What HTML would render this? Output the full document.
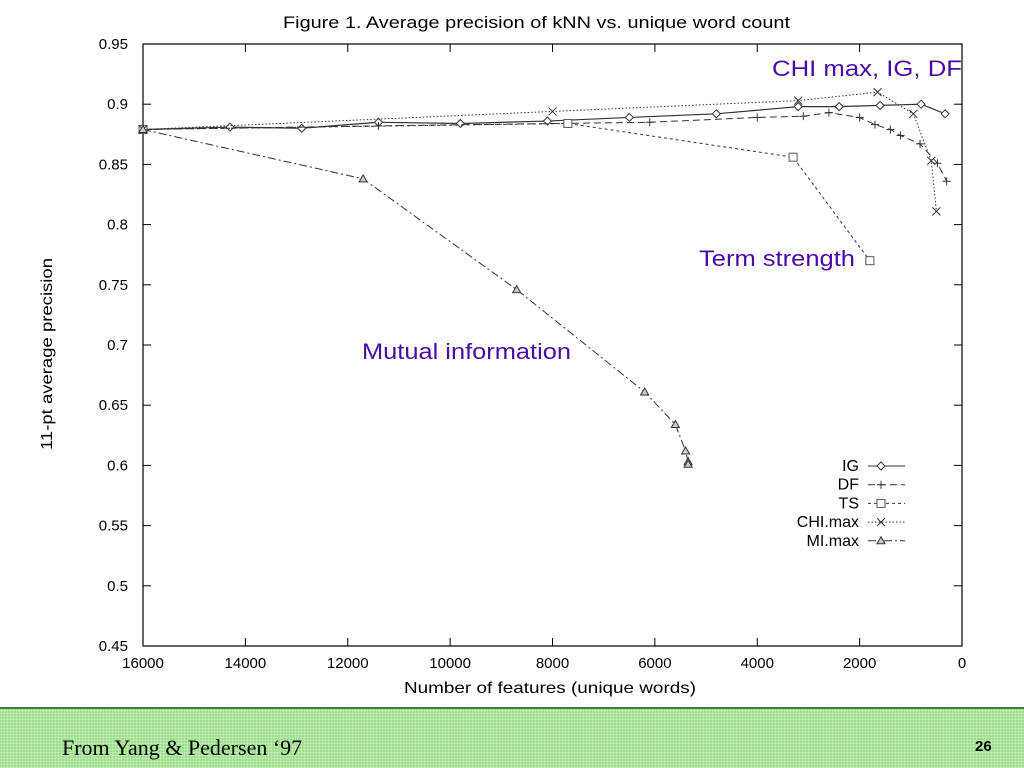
<!DOCTYPE html>
<html><head><meta charset="utf-8"><style>
body{margin:0;width:1024px;height:768px;background:#fff;overflow:hidden;font-family:"Liberation Sans",sans-serif;}
#band{position:absolute;left:0;top:707px;width:1024px;height:61px;background:#9ddf8c;border-top:2px solid #3a7a3a;box-sizing:border-box;background-image:radial-gradient(#c8f0bc 0.8px,transparent 0.9px);background-size:3px 3px;}
</style></head><body>
<svg id="chart" width="1024" height="707" style="position:absolute;left:0;top:0" font-family="Liberation Sans, sans-serif"></svg>
<div id="band">
<div style="position:absolute;left:62px;top:26px;font-family:'Liberation Serif',serif;font-size:22px;">From Yang &amp; Pedersen ‘97</div>
<div style="position:absolute;left:975px;top:29px;font-weight:bold;font-size:15px;">26</div>
</div>
<script>
const xTicks=[16000,14000,12000,10000,8000,6000,4000,2000,0];
const yTicks=[0.45,0.5,0.55,0.6,0.65,0.7,0.75,0.8,0.85,0.9,0.95];
const igX=[16000,14300,12900,11400,9800,8100,6500,4800,3200,2400,1600,800,330];
const igY=[0.879,0.881,0.880,0.885,0.884,0.886,0.889,0.892,0.898,0.898,0.899,0.900,0.892];
const dfX=[16000,11400,6100,4000,3100,2600,2000,1700,1400,1200,820,480,300];
const dfY=[0.879,0.882,0.885,0.889,0.890,0.893,0.889,0.883,0.879,0.874,0.867,0.851,0.836];
const tsX=[16000,7700,3300,1800];
const tsY=[0.879,0.884,0.856,0.770];
const chiX=[16000,8000,3200,1650,950,600,500];
const chiY=[0.879,0.894,0.903,0.910,0.892,0.853,0.811];
const miX=[16000,11700,8700,6200,5600,5400,5350,5350];
const miY=[0.879,0.838,0.746,0.661,0.634,0.612,0.603,0.601];
const L=143,R=962,T=44,B=646;
const sx=v=>L+(16000-v)*(R-L)/16000;
const sy=v=>T+(0.95-v)*(B-T)/0.5;
const svg=document.getElementById('chart');
const NS='http://www.w3.org/2000/svg';
function mk(tag,at,name,parent){const e=document.createElementNS(NS,tag);for(const k in at)e.setAttribute(k,at[k]);


(parent||svg).appendChild(e);return e;}
function txt(s,at,name){const e=mk('text',at,name);e.textContent=s;return e;}
txt('Figure 1. Average precision of kNN vs. unique word count',{x:283,y:28,'font-size':17,textLength:507,lengthAdjust:'spacingAndGlyphs'},'chart-title');
mk('rect',{x:L,y:T,width:R-L,height:B-T,fill:'none',stroke:'#000','stroke-width':1.2},'plot-frame');
xTicks.forEach(v=>{const x=sx(v);
mk('line',{x1:x,x2:x,y1:B,y2:B-8,stroke:'#000'},'x-tick');
mk('line',{x1:x,x2:x,y1:T,y2:T+8,stroke:'#000'},'x-tick-top');
txt(String(v),{x:x,y:B+22,'text-anchor':'middle','font-size':15},'x-tick-label');});
yTicks.forEach(v=>{const y=sy(v);
mk('line',{x1:L,x2:L+8,y1:y,y2:y,stroke:'#000'},'y-tick');
mk('line',{x1:R,x2:R-8,y1:y,y2:y,stroke:'#000'},'y-tick-right');
txt(String(v),{x:128,y:y+5,'text-anchor':'end','font-size':15},'y-tick-label');});
txt('Number of features (unique words)',{x:404,y:693,'font-size':16,textLength:292,lengthAdjust:'spacingAndGlyphs'},'x-axis-title');
txt('11-pt average precision',{x:0,y:0,'font-size':16,textLength:192,lengthAdjust:'spacingAndGlyphs',transform:'translate(52 450) rotate(-90)'},'y-axis-title');
function marker(type,x,y,g){
 if(type==='d')mk('polygon',{points:`${x},${y-4} ${x+4},${y} ${x},${y+4} ${x-4},${y}`,fill:'#fff',stroke:'#333'},'marker',g);
 else if(type==='p'){mk('path',{d:`M${x-4} ${y}H${x+4}M${x} ${y-4}V${y+4}`,stroke:'#333'},'marker',g);}
 else if(type==='s')mk('rect',{x:x-4,y:y-4,width:8,height:8,fill:'#fff',stroke:'#555'},'marker',g);
 else if(type==='x')mk('path',{d:`M${x-4} ${y-4}L${x+4} ${y+4}M${x-4} ${y+4}L${x+4} ${y-4}`,stroke:'#333'},'marker',g);
 else mk('polygon',{points:`${x},${y-4} ${x+4},${y+3} ${x-4},${y+3}`,fill:'#ccc',stroke:'#333'},'marker',g);}
const series=[['ig',igX,igY,'d','none',1.2,'IG'],['df',dfX,dfY,'p','7,4',1,'DF'],['ts',tsX,tsY,'s','3,3',1,'TS'],['chi',chiX,chiY,'x','1.5,2',1,'CHI.max'],['mi',miX,miY,'t','8,3,2,3',1,'MI.max']];
series.forEach((s,i)=>{const g=mk('g',{},'series-'+s[0]);
mk('polyline',{points:s[1].map((v,j)=>sx(v)+','+sy(s[2][j])).join(' '),fill:'none',stroke:'#333','stroke-width':s[5],'stroke-dasharray':s[4]},'line-'+s[0],g);
s[1].forEach((v,j)=>marker(s[3],sx(v),sy(s[2][j]),g));
const ly=466+i*18.7;const lg=mk('g',{},'legend-entry');
const t=mk('text',{x:859,y:ly+5,'text-anchor':'end','font-size':16},'legend-label',lg);t.textContent=s[6];
mk('line',{x1:868,x2:905,y1:ly,y2:ly,stroke:'#333','stroke-dasharray':s[4]},'legend-line',lg);
marker(s[3],881,ly,lg);});
const purple='#4a0aa8';
txt('CHI max, IG, DF',{x:772,y:76,'font-size':22,fill:purple,textLength:190,lengthAdjust:'spacingAndGlyphs'},'annotation-chi-ig-df');
txt('Term strength',{x:699,y:266,'font-size':22,fill:purple,textLength:156,lengthAdjust:'spacingAndGlyphs'},'annotation-term-strength');
txt('Mutual information',{x:362,y:359,'font-size':22,fill:purple,textLength:209,lengthAdjust:'spacingAndGlyphs'},'annotation-mutual-information');
</script>
</body></html>
